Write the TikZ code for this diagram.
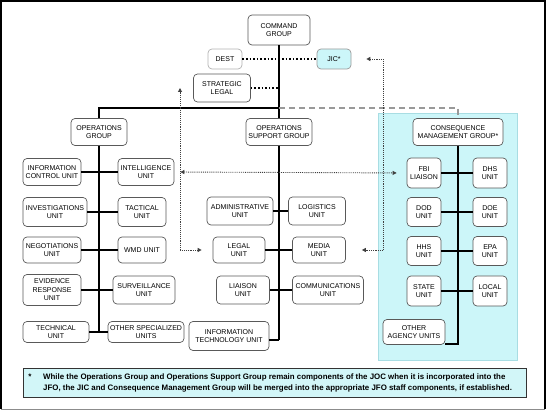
\documentclass[tikz,border=0pt]{standalone}
\usepackage{fontspec}
\setmainfont{Liberation Sans}
\usetikzlibrary{arrows.meta}
\definecolor{cmgcyan}{HTML}{CCF6F9}
\definecolor{cmgedge}{HTML}{A8DDE3}
\definecolor{notecyan}{HTML}{D2F6F8}

\begin{document}
\begin{tikzpicture}[x=1pt,y=-1pt,
		box/.style={draw=black!65, rounded corners=4pt, fill=white, align=center, inner sep=1pt, line width=0.7pt, font=\fontsize{7}{8.5}\selectfont},
		trunk/.style={line width=1.5pt},
		staff/.style={dotted, line width=1.6pt},
		link/.style={densely dotted, line width=0.9pt, black!75, -{Triangle[length=4pt,width=4pt]}},
		twoway/.style={{Triangle[length=4pt,width=4pt]}-{Triangle[length=4pt,width=4pt]}},
		merge/.style={dashed, dash pattern=on 6pt off 4pt, line width=1.2pt, black!40}]
			%%%%% START %%%%%
			\useasboundingbox (0,0) rectangle (550,411);
			
			\draw[line width=1.6pt] (1,409) -- (1,1) -- (545,1) -- (545,409);
			\draw[line width=0.8pt, black!45] (1,409) -- (545,409);
			
			\draw[fill=cmgcyan, draw=cmgedge, line width=0.8pt] (378,113) rectangle (517,360);
			
			% command level
			\node[box, minimum width=62pt, minimum height=30pt] (cmd) at (279,30) {COMMAND\\GROUP};
			\node[box, draw=black!30, minimum width=34pt, minimum height=20pt] (dest) at (225,59) {DEST};
			\node[box, draw=black!40, fill=cmgcyan, minimum width=34pt, minimum height=20pt] (jic) at (334,59) {JIC*};
			\node[box, minimum width=57pt, minimum height=28pt] (strat) at (222,88) {STRATEGIC\\LEGAL};
			
			% groups
			\node[box, minimum width=56pt, minimum height=27pt] (opsg) at (99,132) {OPERATIONS\\GROUP};
			\node[box, minimum width=66pt, minimum height=27pt] (osg) at (279,132) {OPERATIONS\\SUPPORT GROUP};
			\node[box, minimum width=90pt, minimum height=27pt] (cmg) at (458,132) {CONSEQUENCE\\MANAGEMENT GROUP*};
			
			% operations group units
			\node[box, minimum width=58pt, minimum height=27pt] (icu) at (52,172) {INFORMATION\\CONTROL UNIT};
			\node[box, minimum width=56pt, minimum height=27pt] (intel) at (146,172) {INTELLIGENCE\\UNIT};
			\node[box, minimum width=64pt, minimum height=29pt] (inv) at (55,212) {INVESTIGATIONS\\UNIT};
			\node[box, minimum width=48pt, minimum height=29pt] (tact) at (142,212) {TACTICAL\\UNIT};
			\node[box, minimum width=58pt, minimum height=26pt] (neg) at (52,250) {NEGOTIATIONS\\UNIT};
			\node[box, minimum width=48pt, minimum height=26pt] (wmd) at (142,250) {WMD UNIT};
			\node[box, minimum width=58pt, minimum height=31pt] (evid) at (52,290) {EVIDENCE\\RESPONSE\\UNIT};
			\node[box, minimum width=62pt, minimum height=28pt] (surv) at (144,290) {SURVEILLANCE\\UNIT};
			\node[box, minimum width=66pt, minimum height=21pt] (tech) at (56,332) {TECHNICAL\\UNIT};
			\node[box, minimum width=76pt, minimum height=21pt] (other) at (146,332) {OTHER SPECIALIZED\\UNITS};
			
			% operations support group units
			\node[box, minimum width=66pt, minimum height=28pt] (admin) at (240,211) {ADMINISTRATIVE\\UNIT};
			\node[box, minimum width=57pt, minimum height=28pt] (logi) at (317,211) {LOGISTICS\\UNIT};
			\node[box, minimum width=52pt, minimum height=26pt] (legal) at (239,250) {LEGAL\\UNIT};
			\node[box, minimum width=53pt, minimum height=26pt] (media) at (319,250) {MEDIA\\UNIT};
			\node[box, minimum width=53pt, minimum height=28pt] (liais) at (243,290) {LIAISON\\UNIT};
			\node[box, minimum width=71pt, minimum height=28pt] (comm) at (328,290) {COMMUNICATIONS\\UNIT};
			\node[box, minimum width=80pt, minimum height=29pt] (itu) at (229,336) {INFORMATION\\TECHNOLOGY UNIT};
			
			% consequence management group units
			\node[box, minimum width=34pt, minimum height=30pt] (fbi) at (424,173) {FBI\\LIAISON};
			\node[box, minimum width=34pt, minimum height=30pt] (dhs) at (490,173) {DHS\\UNIT};
			\node[box, minimum width=34pt, minimum height=29pt] (dod) at (424,212) {DOD\\UNIT};
			\node[box, minimum width=34pt, minimum height=29pt] (doe) at (490,212) {DOE\\UNIT};
			\node[box, minimum width=34pt, minimum height=29pt] (hhs) at (424,251) {HHS\\UNIT};
			\node[box, minimum width=34pt, minimum height=29pt] (epa) at (490,251) {EPA\\UNIT};
			\node[box, minimum width=34pt, minimum height=30pt] (state) at (424,291) {STATE\\UNIT};
			\node[box, minimum width=34pt, minimum height=30pt] (local) at (490,291) {LOCAL\\UNIT};
			\node[box, minimum width=62pt, minimum height=25pt] (oau) at (414,332) {OTHER\\AGENCY UNITS};
			
			% chain of command
			\coordinate (bar) at (279,108);
			\draw[trunk] (cmd) -- (osg);
			\draw[trunk] (opsg.north) |- (bar);
			\draw[merge] (bar) -| (cmg.north);
			\draw[staff] (dest) -- (jic);
			\draw[staff] (strat.east) -- (strat.east -| cmd.south);
			
			\draw[trunk] (opsg.south) -- (opsg.south |- other.west);
			\draw[trunk] (icu) -- (intel);
			\draw[trunk] (inv) -- (tact);
			\draw[trunk] (neg) -- (wmd);
			\draw[trunk] (evid) -- (surv);
			\draw[trunk] (tech) -- (other);
			
			\draw[trunk] (osg.south) -- (osg.south |- 0,340);
			\draw[trunk] (admin) -- (logi);
			\draw[trunk] (legal) -- (media);
			\draw[trunk] (liais) -- (comm);
			\draw[trunk] ([yshift=-4pt]itu.east) -- ([yshift=-4pt]itu.east -| osg.south);
			
			\draw[trunk] (cmg.south) |- ([yshift=1pt]oau.south east);
			\draw[trunk] (fbi) -- (dhs);
			\draw[trunk] (dod) -- (doe);
			\draw[trunk] (hhs) -- (epa);
			\draw[trunk] (state) -- (local);
			
			% coordination links
			\coordinate (lx) at (180,250);
			\coordinate (rx) at (383,250);
			\draw[link] (lx) -- (lx |- strat.west);
			\draw[link, shorten >=11pt] (lx) -- (legal.west);
			\draw[link, twoway, shorten <=6pt, shorten >=10pt] (intel.east) -- (fbi.west);
			\draw[link, shorten >=16pt] (rx) -- (media.east);
			\draw[link, shorten >=15pt] (rx) |- (jic.east);
			
			% footnote
			\node[draw=black!80, fill=notecyan, line width=0.8pt, minimum width=503pt, minimum height=29pt] (note) at (274.5,382.5) {};
			\node[font=\fontsize{8}{9}\bfseries\selectfont] (star) at (30,377) {*};
			\node[anchor=west, align=left, inner sep=0pt, font=\fontsize{7.9}{11}\bfseries\selectfont] (notetext) at (43,382.5) {While the Operations Group and Operations Support Group remain components of the JOC when it is incorporated into the\\JFO, the JIC and Consequence Management Group will be merged into the appropriate JFO staff components, if established.};
			
			%%%%% END %%%%%
\end{tikzpicture}
\end{document}
